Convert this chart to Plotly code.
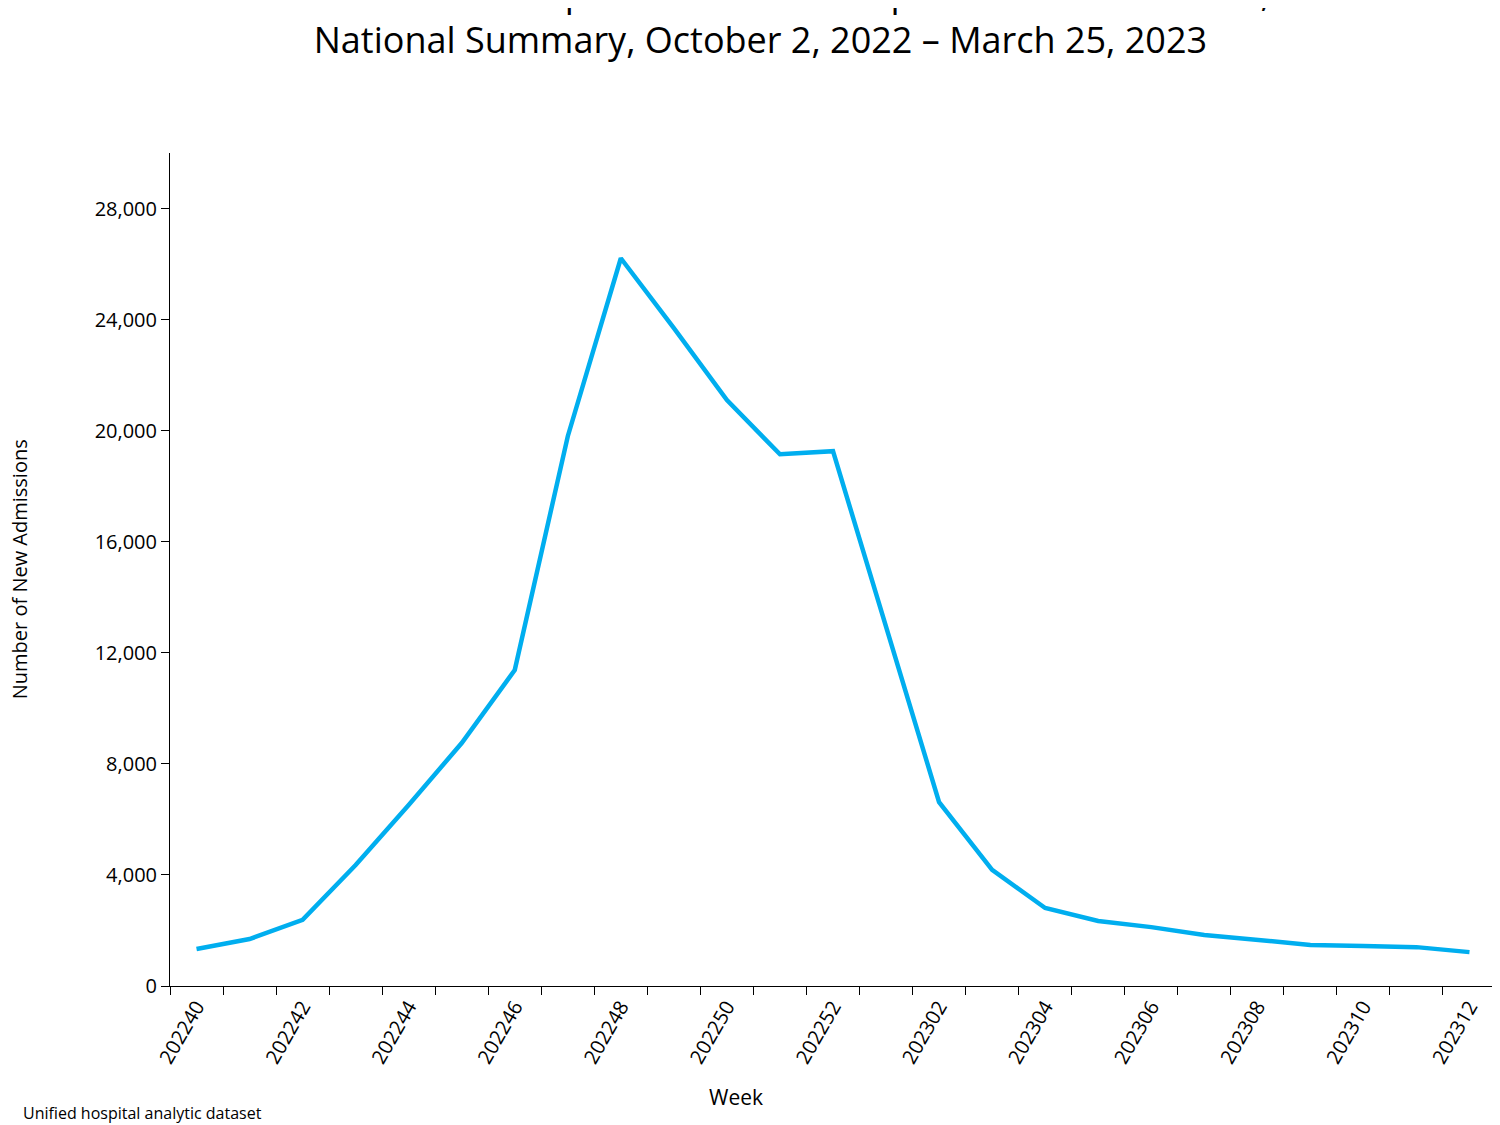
import plotly.graph_objects as go

weeks = ["202240", "202241", "202242", "202243", "202244", "202245", "202246",
         "202247", "202248", "202249", "202250", "202251", "202252",
         "202301", "202302", "202303", "202304", "202305", "202306",
         "202307", "202308", "202309", "202310", "202311", "202312"]
admissions = [1330, 1690, 2380, 4360, 6520, 8750, 11380, 19800, 26210, 23690,
              21100, 19150, 19260, 12920, 6620, 4180, 2810, 2340, 2120, 1840,
              1660, 1480, 1440, 1400, 1220]

xs = list(range(len(weeks)))
fig = go.Figure(go.Scatter(x=xs, y=admissions, mode="lines",
                           line=dict(color="#00AEEF", width=4.5), showlegend=False))

fig.update_layout(
    width=1500, height=1125, plot_bgcolor="white", paper_bgcolor="white",
    font=dict(family="Open Sans, Liberation Sans, sans-serif", color="black"),
    margin=dict(l=162, r=12, t=145, b=147, autoexpand=False),
)
# title as annotation so it stays inside the page
fig.add_annotation(text="New Influenza Hospital Admissions Reported to HHS Protect,<br>National Summary, October 2, 2022 – March 25, 2023",
                   xref="paper", yref="paper", x=0.445, y=1.165, xanchor="center", yanchor="middle",
                   showarrow=False, font=dict(size=36), align="center")
fig.update_xaxes(
    range=[-0.5, len(weeks) - 0.5], tickvals=xs[::2], ticktext=weeks[::2],
    tickangle=-60, tickfont=dict(size=20), ticks="", showgrid=False, zeroline=False,
    showline=True, linecolor="black", linewidth=1, automargin=False,
    minor=dict(tick0=-0.5, dtick=1, ticks="outside", ticklen=8, tickcolor="black", showgrid=False),
)
fig.update_yaxes(
    range=[0, 30000], dtick=4000, tickformat=",", tickfont=dict(size=20),
    ticks="outside", ticklen=8, tickcolor="black", showgrid=False, zeroline=False,
    showline=True, linecolor="black", linewidth=1, automargin=False,
)
fig.add_annotation(text="Number of New Admissions", xref="paper", yref="paper",
                   x=-0.125, y=0.5, textangle=-90, showarrow=False, font=dict(size=20))
fig.add_annotation(text="Week", xref="paper", yref="paper",
                   x=0.427, y=-0.152, showarrow=False, font=dict(size=21))
fig.add_annotation(text="Unified hospital analytic dataset", xref="paper", yref="paper",
                   x=-0.112, y=-0.152, xanchor="left", yanchor="middle", showarrow=False,
                   font=dict(size=16))
fig.write_html("out.html")
